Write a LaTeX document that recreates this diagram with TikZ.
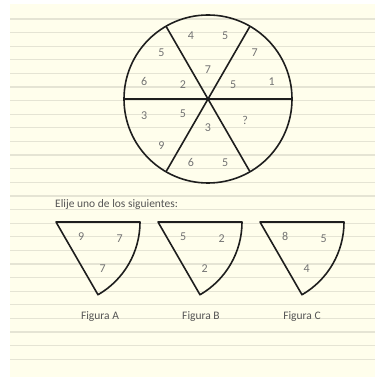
\documentclass[tikz,border=0pt]{standalone}
\usepackage{fontspec}
\setmainfont{Carlito}
\usetikzlibrary{positioning}
\definecolor{paper}{RGB}{255,254,236}
\definecolor{ruleline}{RGB}{229,228,212}
\definecolor{inkgray}{RGB}{115,115,115}
\definecolor{textgray}{RGB}{85,85,85}
\definecolor{outline}{RGB}{30,30,30}

\begin{document}
\begin{tikzpicture}[
  x=1pt, y=1pt,
  num/.style  = {font=\fontsize{12}{14}\selectfont, text=inkgray, inner sep=0pt},
  lbl/.style  = {font=\fontsize{11.5}{13}\selectfont, text=textgray, inner sep=0pt},
  edge/.style = {draw=outline, line width=1.6pt, line join=round}
]
  \useasboundingbox (0,0) rectangle (375,377);
  % ruled paper
  \fill[paper] (10,0) rectangle (375,373);
  \foreach \k in {0,...,25}
    \draw[ruleline, line width=1.2pt] (10,{358-13.61*\k}) -- (375,{358-13.61*\k});

  % wheel
  \begin{scope}[shift={(208,278)}]
    \draw[edge] (0,0) circle[radius=84];
    \draw[edge] (180:84) -- (0:84);
    \draw[edge] (120:84) -- (300:84);
    \draw[edge] (60:84)  -- (240:84);
    \node[num] (w1) at (105:66) {4};
    \node[num] (w2) at (75:66)  {5};
    \node[num] (w3) at (90:29)  {7};
    \node[num] (w4) at (45:66)  {7};
    \node[num] (w5) at (15:66)  {1};
    \node[num] (w6) at (30:29)  {5};
    \node[num] (w7) at (135:66) {5};
    \node[num] (w8) at (165:66) {6};
    \node[num] (w9) at (150:29) {2};
    \node[num] (w10) at (195:66) {3};
    \node[num] (w11) at (225:66) {9};
    \node[num] (w12) at (210:29) {5};
    \node[num] (w13) at (255:66) {6};
    \node[num] (w14) at (285:66) {5};
    \node[num] (w15) at (270:29) {3};
    \node[num] (w16) at (330:43) {?};
  \end{scope}

  \node[lbl, anchor=base west] (prompt) at (55,169) {Elije uno de los siguientes:};

  % Figura A
  \begin{scope}[shift={(56,155)}]
    \draw[edge] (0,0) -- (0:84) arc[start angle=0, end angle=-60, radius=84] -- cycle;
    \node[num] (a1) at (-30:29) {9};
    \node[num] (a2) at (-15:66) {7};
    \node[num] (a3) at (-45:66) {7};
    \node[lbl, anchor=base] (figA) at (44,-98) {Figura A};
  \end{scope}

  % Figura B
  \begin{scope}[shift={(158,155)}]
    \draw[edge] (0,0) -- (0:84) arc[start angle=0, end angle=-60, radius=84] -- cycle;
    \node[num] (b1) at (-30:29) {5};
    \node[num] (b2) at (-15:66) {2};
    \node[num] (b3) at (-45:66) {2};
    \node[lbl, anchor=base] (figB) at (43,-98) {Figura B};
  \end{scope}

  % Figura C
  \begin{scope}[shift={(260,155)}]
    \draw[edge] (0,0) -- (0:84) arc[start angle=0, end angle=-60, radius=84] -- cycle;
    \node[num] (c1) at (-30:29) {8};
    \node[num] (c2) at (-15:66) {5};
    \node[num] (c3) at (-45:66) {4};
    \node[lbl, anchor=base] (figC) at (42,-98) {Figura C};
  \end{scope}
\end{tikzpicture}
\end{document}
